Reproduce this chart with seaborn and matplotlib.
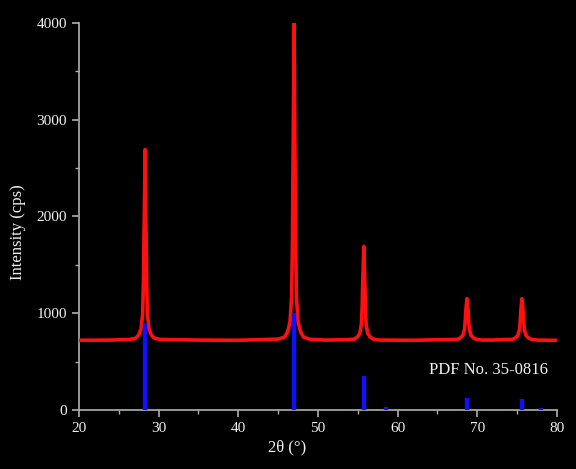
import matplotlib
matplotlib.use('Agg')
import matplotlib.pyplot as plt
import matplotlib.ticker as mticker
import pandas as pd
import seaborn as sns

# ---------------------------------------------------------------------------
# Dados lidos do difratograma (CaF2, PDF 35-0816)
# ---------------------------------------------------------------------------
two_theta = [
    20.0, 24.0, 26.3,
    27.1, 27.5, 27.8, 28.0, 28.1, 28.15, 28.2, 28.25, 28.3,
    28.35, 28.4, 28.45, 28.5, 28.6, 28.8, 29.1, 29.5, 30.3,
    35.0, 40.0, 45.0,
    45.8, 46.2, 46.5, 46.7, 46.8, 46.85, 46.9, 46.95, 47.0,
    47.05, 47.1, 47.15, 47.2, 47.3, 47.5, 47.8, 48.2, 49.0,
    51.0, 53.75,
    54.55, 54.95, 55.25, 55.45, 55.55, 55.6, 55.65, 55.7, 55.75,
    55.8, 55.85, 55.9, 55.95, 56.05, 56.25, 56.55, 56.95, 57.75,
    62.0, 66.7,
    67.5, 67.9, 68.2, 68.4, 68.5, 68.55, 68.6, 68.65, 68.7,
    68.75, 68.8, 68.85, 68.9, 69.0, 69.2, 69.5, 69.9, 70.7,
    72.0, 73.6,
    74.4, 74.8, 75.1, 75.3, 75.4, 75.45, 75.5, 75.55, 75.6,
    75.65, 75.7, 75.75, 75.8, 75.9, 76.1, 76.4, 76.8, 77.6,
    79.0, 80.0,
]
intensidade = [
    720, 722, 728,
    740, 773, 836, 992, 1327, 1705, 1981, 2296, 2690,
    2296, 1981, 1705, 1327, 992, 836, 773, 740, 728,
    722, 720, 732,
    752, 809, 914, 1173, 1730, 2360, 2819, 3344, 4000,
    3344, 2819, 2360, 1730, 1173, 914, 809, 752, 730,
    722, 726,
    732, 753, 791, 883, 1069, 1262, 1391, 1530, 1690,
    1530, 1391, 1262, 1069, 883, 791, 753, 732, 722,
    720, 728,
    729, 745, 773, 834, 935, 1018, 1064, 1107, 1150,
    1107, 1064, 1018, 935, 834, 773, 745, 729, 722,
    722, 728,
    729, 745, 773, 834, 935, 1018, 1064, 1107, 1150,
    1107, 1064, 1018, 935, 834, 773, 745, 729, 722,
    720, 720,
]

# Linhas de referência do padrão PDF
pdf_pos = [28.27, 47.0, 55.75, 58.55, 68.7, 75.6, 78.0]
pdf_int = [900, 1000, 350, 25, 120, 115, 18]

x_ticks = [20, 30, 40, 50, 60, 70, 80]
y_ticks = [0, 1000, 2000, 3000, 4000]

# ---------------------------------------------------------------------------
# Estilo
# ---------------------------------------------------------------------------
sns.set_theme(style='ticks')
plt.rcParams['font.family'] = ['Liberation Serif', 'DejaVu Serif']
TXT = '#f0f0f0'
EIXO = '#b0b0b0'

df = pd.DataFrame({'two_theta': two_theta, 'intensidade': intensidade})

fig = plt.figure(figsize=(5.76, 4.69), dpi=100, facecolor='black')
ax = fig.add_axes([0.137, 0.126, 0.830, 0.825])
ax.set_facecolor('black')

sns.lineplot(data=df, x='two_theta', y='intensidade', ax=ax, color='#ff1010',
             linewidth=2.6, estimator=None, sort=False, zorder=3)
# barras do padrão por cima da curva, como no original
ax.vlines(pdf_pos, 0, pdf_int, colors='#1010ff', linewidth=3.2, zorder=4)

ax.set_xlim(20, 80)
ax.set_ylim(0, 4000)
ax.set_xticks(x_ticks)
ax.set_yticks(y_ticks)
ax.xaxis.set_minor_locator(mticker.MultipleLocator(5))
ax.yaxis.set_minor_locator(mticker.MultipleLocator(500))

for lado in ['top', 'right']:
    ax.spines[lado].set_visible(False)
for lado in ['left', 'bottom']:
    ax.spines[lado].set_color(EIXO)
    ax.spines[lado].set_linewidth(1.2)

ax.tick_params(which='major', colors=EIXO, labelcolor=TXT, labelsize=11,
               length=5, width=1.2, direction='out')
ax.tick_params(which='minor', colors=EIXO, length=3, width=1.0, direction='out')

ax.set_xlabel('2θ (°)', color=TXT, fontsize=12)
ax.set_ylabel('Intensity (cps)', color=TXT, fontsize=12)
ax.xaxis.set_label_coords(0.435, -0.075)
ax.yaxis.set_label_coords(-0.11, 0.46)

ax.text(71.4, 410, 'PDF No. 35-0816', color=TXT, fontsize=12,
        ha='center', va='center')

plt.savefig('out.png', dpi=100, facecolor='black')
plt.close()
